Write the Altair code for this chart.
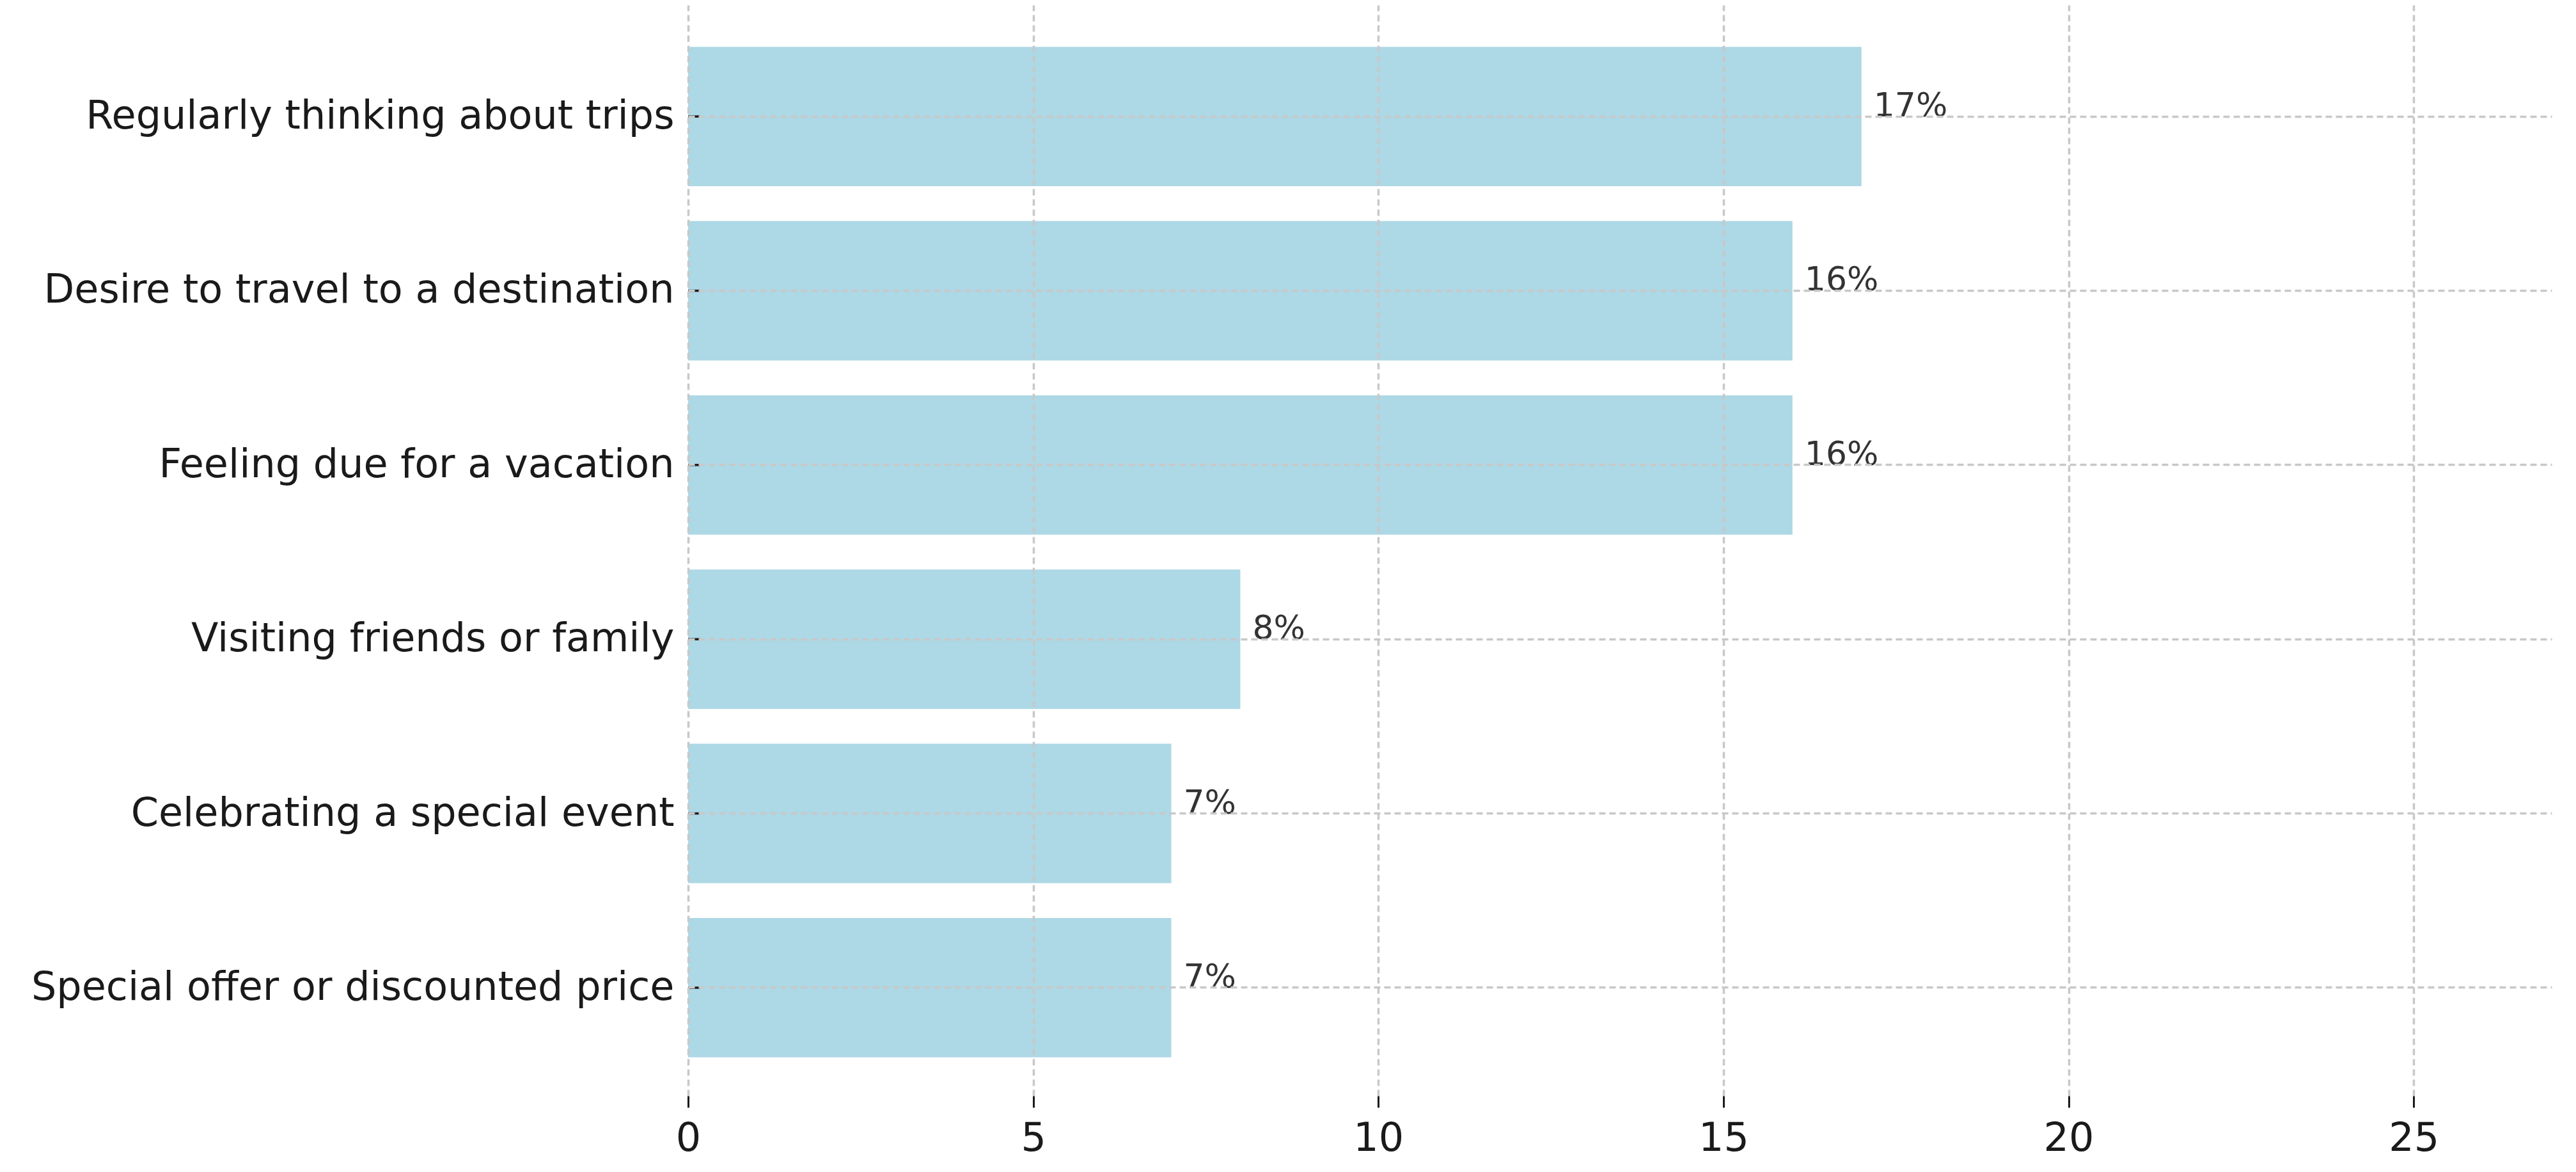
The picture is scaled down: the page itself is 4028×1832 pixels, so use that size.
import altair as alt
import pandas as pd

categories = [
    "Regularly thinking about trips",
    "Desire to travel to a destination",
    "Feeling due for a vacation",
    "Visiting friends or family",
    "Celebrating a special event",
    "Special offer or discounted price",
]
values = [17, 16, 16, 8, 7, 7]
labels = ["17%", "16%", "16%", "8%", "7%", "7%"]
x_ticks = [0, 5, 10, 15, 20, 25]

df = pd.DataFrame({"reason": categories, "value": values, "label": labels})

FONT = "DejaVu Sans"
GRID = "#c8c8c8"

y_enc = alt.Y(
    "reason:N",
    sort=categories,
    title=None,
    scale=alt.Scale(paddingInner=0.2, paddingOuter=0.23, align=0.52),
    axis=alt.Axis(
        domain=False,
        ticks=False,
        labelPadding=22,
        labelFontSize=62,
        labelFont=FONT,
        labelColor="#1a1a1a",
        labelLimit=2000,
        grid=True,
        gridColor=GRID,
        gridDash=[10, 6],
        gridWidth=3.5,
        zindex=1,
    ),
)

x_scale = alt.Scale(domain=[0, 27], nice=False, zero=True)

bars = alt.Chart(df).mark_bar(color="#ADD8E6").encode(
    x=alt.X(
        "value:Q",
        scale=x_scale,
        title=None,
        axis=alt.Axis(
            values=x_ticks,
            format="d",
            labelFlush=False,
            domain=False,
            tickSize=18,
            tickWidth=3,
            tickColor="#1a1a1a",
            labelPadding=18,
            labelFontSize=62,
            labelFont=FONT,
            labelColor="#1a1a1a",
            grid=True,
            gridColor=GRID,
            gridDash=[10, 6],
            gridWidth=3.5,
            zindex=1,
        ),
    ),
    y=y_enc,
)

inward_ticks = alt.Chart(df).mark_rule(color="#1a1a1a", strokeWidth=3.5).encode(
    y=alt.Y("reason:N", sort=categories),
    x=alt.value(0),
    x2=alt.value(18),
)

texts = alt.Chart(df).mark_text(
    align="left",
    baseline="alphabetic",
    dx=19,
    fontSize=52,
    font=FONT,
    color="#333333",
).encode(
    x=alt.X("value:Q", scale=x_scale),
    y=alt.Y("reason:N", sort=categories),
    text="label:N",
)

chart = (
    alt.layer(bars, inward_ticks, texts)
    .properties(
        width=2914,
        height=1705,
        autosize=alt.AutoSizeParams(type="none"),
        padding={"left": 1068, "top": 0, "right": 30, "bottom": 100},
        view=alt.ViewBackground(strokeWidth=0, stroke="transparent"),
    )
    .configure_view(strokeWidth=0, stroke="transparent")
    .configure(background="white")
)

chart.save("out.html", embed_options={"renderer": "svg", "actions": False})
